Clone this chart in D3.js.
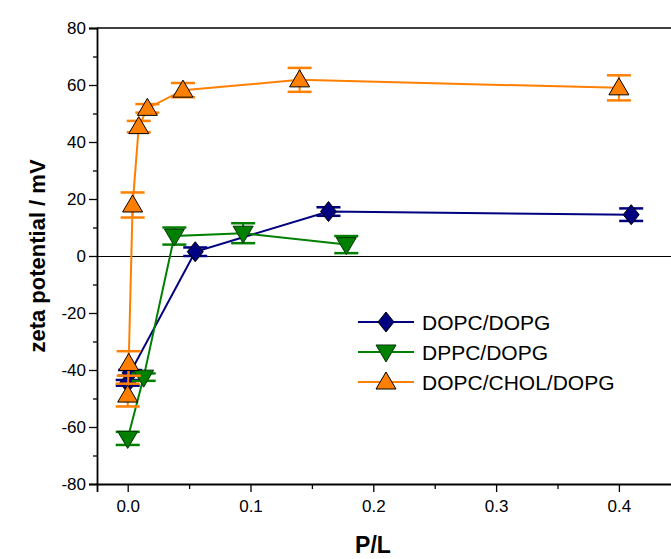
<!DOCTYPE html>
<html>
<head>
<meta charset="utf-8">
<script src="https://cdn.jsdelivr.net/npm/d3@7"></script>
<style>
  body { margin: 0; background: #fff; }
  svg { font-family: "Liberation Sans", Arial, sans-serif; }
</style>
</head>
<body>
<div class="chart"></div>
<script>
// series data: P/L, zeta potential (mV), y error
const dopcDopgX = [0, 0.002, 0.055, 0.1635, 0.41];
const dopcDopgY = [-44.5, -41, 1.5, 15.6, 14.5];
const dopcDopgErr = [1, 1, 1.5, 1.5, 2.2];

const dppcDopgX = [0, 0.013, 0.038, 0.094, 0.178];
const dppcDopgY = [-64, -42.5, 7, 8, 4];
const dppcDopgErr = [2.3, 1.3, 3, 3.5, 3];

const cholX = [0, 0.0008, 0.004, 0.009, 0.016, 0.045, 0.14, 0.4];
const cholY = [-48.8, -37.7, 17.9, 45.4, 51.8, 58.2, 61.8, 59];
const cholErr = [4, 4.3, 4.4, 2, 1.5, 2.5, 4.2, 4.4];

const seriesNames = ["DOPC/DOPG", "DPPC/DOPG", "DOPC/CHOL/DOPG"];
const seriesColors = ["#000080", "#008000", "#ff8000"];

const xTicks = [0, 0.1, 0.2, 0.3, 0.4];
const yTicks = [-80, -60, -40, -20, 0, 20, 40, 60, 80];

const width = 671, height = 559;
const margin = { top: 28, left: 97, bottom: 75 };

const xScale = d3.scaleLinear()
  .domain([-0.025, 0.45])
  .range([margin.left, margin.left + 0.475 * 1228]);

const yScale = d3.scaleLinear()
  .domain([-80, 80])
  .range([484, margin.top]);

const svg = d3.select(".chart").append("svg")
  .attr("width", width)
  .attr("height", height);

// zero line
svg.append("line")
  .attr("x1", xScale.range()[0]).attr("x2", xScale.range()[1])
  .attr("y1", yScale(0) + 0.5).attr("y2", yScale(0) + 0.5)
  .attr("stroke", "#000").attr("stroke-width", 1);

// top frame
svg.append("line")
  .attr("x1", xScale.range()[0]).attr("x2", xScale.range()[1])
  .attr("y1", yScale(80)).attr("y2", yScale(80))
  .attr("stroke", "#000").attr("stroke-width", 1.5);

// x axis
svg.append("g")
  .attr("transform", `translate(0,${yScale(-80)})`)
  .call(d3.axisBottom(xScale).tickValues(xTicks).tickFormat(d3.format(".1f")).tickSize(8).tickPadding(8));
svg.append("g")
  .attr("transform", `translate(0,${yScale(-80)})`)
  .call(d3.axisBottom(xScale).tickValues([0.05, 0.15, 0.25, 0.35]).tickFormat("").tickSize(5))
  .select(".domain").remove();

// y axis
svg.append("g")
  .attr("transform", `translate(${xScale.range()[0]},0)`)
  .call(d3.axisLeft(yScale).tickValues(yTicks).tickFormat(d => String(d)).tickSize(8).tickPadding(3));
svg.append("g")
  .attr("transform", `translate(${xScale.range()[0]},0)`)
  .call(d3.axisLeft(yScale).tickValues([-70, -50, -30, -10, 10, 30, 50, 70]).tickFormat("").tickSize(4))
  .select(".domain").remove();

svg.selectAll(".domain").attr("stroke-width", 1.8);
svg.selectAll(".tick line").attr("stroke-width", 1.3);
svg.selectAll(".tick text")
  .attr("font-size", 17)
  .attr("font-family", "Liberation Sans, Arial, sans-serif")
  .attr("fill", "#000");

// axis titles
svg.append("text")
  .attr("x", 373).attr("y", 553)
  .attr("text-anchor", "middle")
  .attr("font-size", 23).attr("font-weight", "bold")
  .text("P/L");

svg.append("text")
  .attr("transform", `translate(45,${yScale(0)}) rotate(-90)`)
  .attr("text-anchor", "middle")
  .attr("font-size", 22).attr("font-weight", "bold")
  .text("zeta potential / mV");

const diamond = "M0,-10L8,0L0,10L-8,0Z";
const triUp = "M0,-10L10,7L-10,7Z";
const triDown = "M0,10L10,-7L-10,-7Z";
const shapes = [diamond, triDown, triUp];
const strokes = ["#000", "#003300", "#000"];

const series = [
  { x: dopcDopgX, y: dopcDopgY, err: dopcDopgErr },
  { x: dppcDopgX, y: dppcDopgY, err: dppcDopgErr },
  { x: cholX, y: cholY, err: cholErr },
].map((s, k) => ({
  name: seriesNames[k],
  color: seriesColors[k],
  shape: shapes[k],
  stroke: strokes[k],
  points: s.x.map((x, i) => ({ x: x, y: s.y[i], e: s.err[i] }))
}));

const line = d3.line().x(d => xScale(d.x)).y(d => yScale(d.y));

series.forEach(s => {
  const g = svg.append("g");
  g.append("path")
    .datum(s.points)
    .attr("d", line)
    .attr("fill", "none")
    .attr("stroke", s.color)
    .attr("stroke-width", 2);

  // error bars
  const eb = g.selectAll("g.err").data(s.points).join("g");
  eb.append("line")
    .attr("x1", d => xScale(d.x)).attr("x2", d => xScale(d.x))
    .attr("y1", d => yScale(d.y - d.e)).attr("y2", d => yScale(d.y + d.e))
    .attr("stroke", s.color).attr("stroke-width", 2);
  [-1, 1].forEach(sg => {
    eb.append("line")
      .attr("x1", d => xScale(d.x) - 12).attr("x2", d => xScale(d.x) + 12)
      .attr("y1", d => yScale(d.y + sg * d.e)).attr("y2", d => yScale(d.y + sg * d.e))
      .attr("stroke", s.color).attr("stroke-width", 2.5);
  });

  g.selectAll("path.mark").data(s.points).join("path")
    .attr("class", "mark")
    .attr("transform", d => `translate(${xScale(d.x)},${yScale(d.y)})`)
    .attr("d", s.shape)
    .attr("fill", s.color)
    .attr("stroke", s.stroke)
    .attr("stroke-width", 1);
});

// legend
const legend = svg.append("g")
  .selectAll("g")
  .data(series)
  .join("g")
  .attr("transform", (d, i) => `translate(358,${322 + i * 30})`);

legend.append("line")
  .attr("x1", 0).attr("x2", 56)
  .attr("stroke", d => d.color).attr("stroke-width", 2);
legend.append("path")
  .attr("transform", "translate(28,0)")
  .attr("d", d => d.shape)
  .attr("fill", d => d.color)
  .attr("stroke", d => d.stroke)
  .attr("stroke-width", 1);
legend.append("text")
  .attr("x", 64).attr("y", 7.5)
  .attr("font-size", 21)
  .text(d => d.name);
</script>
</body>
</html>
